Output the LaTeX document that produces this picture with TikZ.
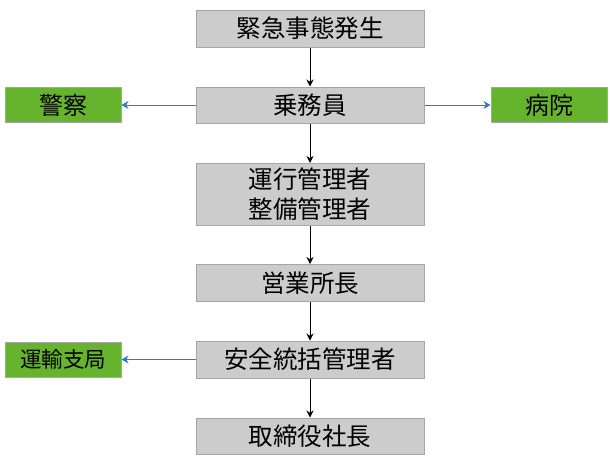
\documentclass[tikz,border=0pt]{standalone}
\usepackage{fontspec}
\newfontfamily\jp{Noto Sans CJK JP}
\usetikzlibrary{arrows.meta}
\definecolor{boxgray}{HTML}{CCCCCC}
\definecolor{boxline}{HTML}{A6A6A6}
\definecolor{boxgreen}{HTML}{66B32E}
\definecolor{arrblue}{HTML}{2E7CC4}
\tikzset{
  graybox/.style={draw=boxline, line width=1pt, fill=boxgray, minimum width=228pt, inner sep=0pt, align=center, font=\jp\fontsize{24.5}{30}\selectfont, text=black},
  greenbox/.style={draw=boxline, line width=1pt, fill=boxgreen, minimum width=116pt, minimum height=35pt, inner sep=0pt, font=\jp\fontsize{24}{28}\selectfont, text=black},
  down/.style={-{Stealth[length=7pt,width=7pt]}, line width=0.8pt, black},
  side/.style={-{Stealth[length=7pt,width=8pt]}, line width=0.8pt, arrblue}
}
\begin{document}
\begin{tikzpicture}[x=1pt,y=-1pt]
\useasboundingbox (0,0) rectangle (610,466);
\node[graybox, minimum height=37pt] (a) at (310,28.5) {緊急事態発生};
\node[graybox, minimum height=36pt] (b) at (310,105) {乗務員};
\node[greenbox] (p) at (63,105) {警察};
\node[greenbox] (h) at (549,105) {病院};
\node[graybox, minimum height=62pt] (c) at (310,194.5) {運行管理者\\整備管理者};
\node[graybox, minimum height=37pt] (d) at (310,283) {営業所長};
\node[graybox, minimum height=37pt] (e) at (310,359.5) {安全統括管理者};
\node[greenbox, font=\jp\fontsize{21.5}{26}\selectfont] (t) at (63,359.5) {運輸支局};
\node[graybox, minimum height=36pt] (f) at (310,436) {取締役社長};
\draw[down] (a) -- (b);
\draw[down] (b) -- (c);
\draw[down] (c) -- (d);
\draw[down] (d) -- (e);
\draw[down] (e) -- (f);
\draw[side] (b) -- (p);
\draw[side] (b) -- (h);
\draw[side] (e) -- (t);
\end{tikzpicture}
\end{document}
